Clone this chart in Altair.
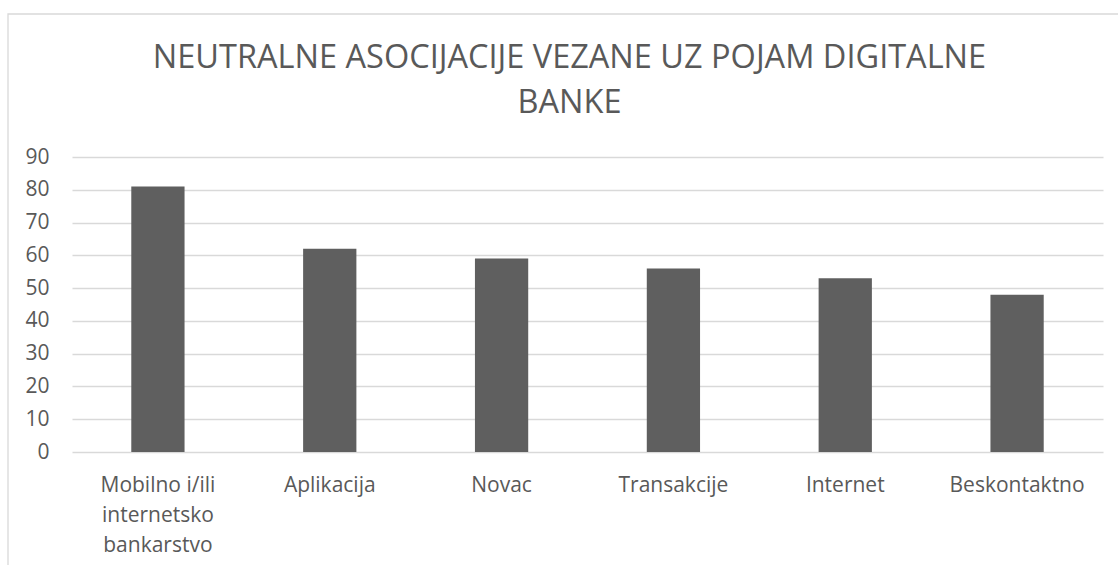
import altair as alt
import pandas as pd

categories = ["Mobilno i/ili internetsko bankarstvo", "Aplikacija", "Novac",
              "Transakcije", "Internet", "Beskontaktno"]
values = [81, 62, 59, 56, 53, 48]
y_ticks = [0, 10, 20, 30, 40, 50, 60, 70, 80, 90]
title_lines = ["NEUTRALNE ASOCIJACIJE VEZANE UZ POJAM DIGITALNE", "BANKE"]

df = pd.DataFrame({"kategorija": categories, "vrijednost": values})

TEXT = "#595959"
GRID = "#d9d9d9"
FONT = "Open Sans"

label_expr = ("datum.label == 'Mobilno i/ili internetsko bankarstvo' ? "
              "['Mobilno i/ili', 'internetsko', 'bankarstvo'] : datum.label")

bars = alt.Chart(df).mark_bar(color="#5f5f5f").encode(
    x=alt.X("kategorija:N", sort=categories, title=None,
            scale=alt.Scale(paddingInner=0.69, paddingOuter=0.345),
            axis=alt.Axis(labelAngle=0, labelExpr=label_expr, ticks=False,
                          domain=False, labelPadding=22, labelFontSize=21,
                          labelFont=FONT, labelColor=TEXT, labelLineHeight=30,
                          grid=False)),
    y=alt.Y("vrijednost:Q", title=None,
            scale=alt.Scale(domain=[0, 90], nice=False),
            axis=alt.Axis(values=y_ticks, ticks=False, domain=False,
                          labelPadding=23, labelFontSize=21, labelFont=FONT,
                          labelColor=TEXT, gridColor=GRID, gridWidth=1.3)),
)

border = alt.Chart(pd.DataFrame({"a": [0]})).mark_rect(
    fill="transparent", stroke=GRID, strokeWidth=1.3
).encode(
    x=alt.value(-64), x2=alt.value(1200), y=alt.value(-143), y2=alt.value(700)
)

chart = alt.layer(border, bars).properties(
    width=1031, height=295,
    title=alt.TitleParams(title_lines, font=FONT, fontSize=32.5,
                          fontWeight="normal", color=TEXT, anchor="middle",
                          frame="group", dx=-18, lineHeight=45, offset=-106),
    autosize=alt.AutoSizeParams(type="none"),
    padding={"left": 72, "top": 157, "right": 15, "bottom": 113},
    background="white",
).configure_view(stroke=None)

chart.save("out.html", embed_options={"renderer": "svg", "actions": False})
